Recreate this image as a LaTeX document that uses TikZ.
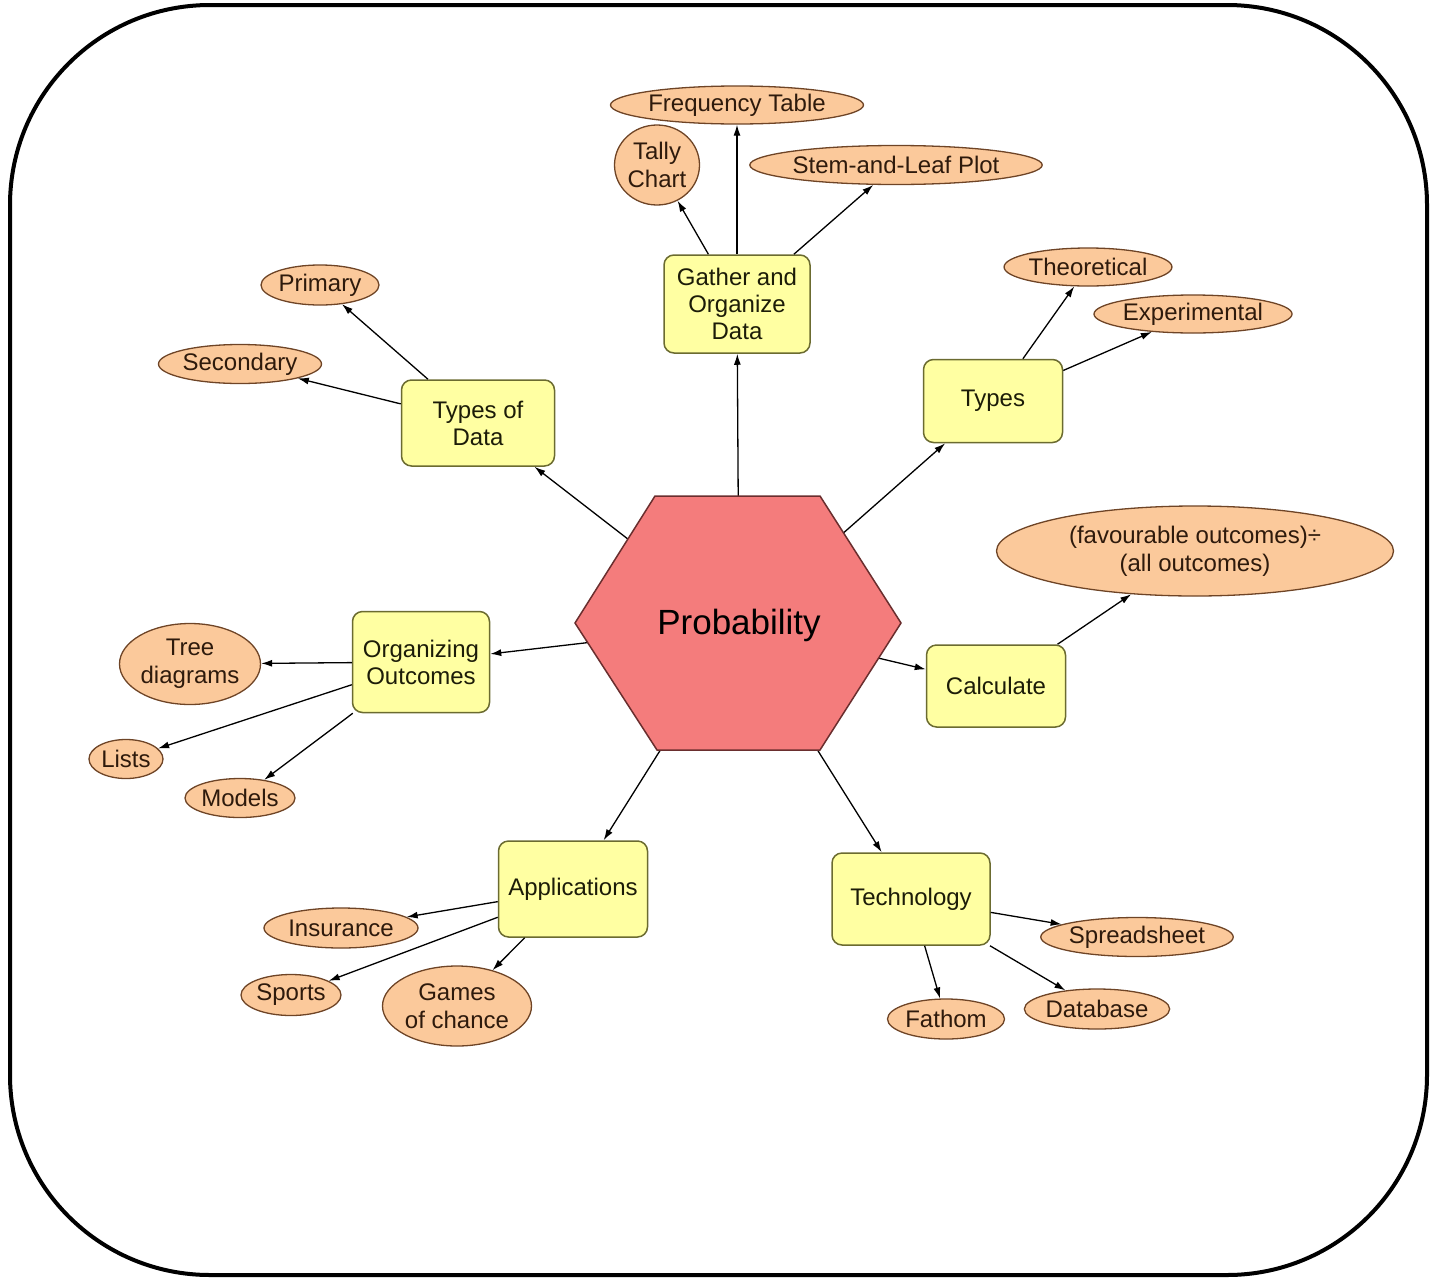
\documentclass[tikz,border=0pt]{standalone}
\usepackage{fontspec}
\setmainfont{Liberation Sans}
\usetikzlibrary{arrows.meta,shapes.geometric}
\definecolor{ellfill}{HTML}{FBC99B}
\definecolor{ellline}{HTML}{6E4426}
\definecolor{boxfill}{HTML}{FFFFA2}
\definecolor{boxline}{HTML}{6B6B30}
\definecolor{hexfill}{HTML}{F47C7C}
\definecolor{hexline}{HTML}{6A2E2E}
\definecolor{leaftext}{HTML}{2E1A0C}
\definecolor{boxtext}{HTML}{1C1C08}
\pgfdeclarelayer{bg}
\pgfsetlayers{bg,main}
\begin{document}
\begin{tikzpicture}[x=1pt,y=-1pt,
  leaf/.style={ellipse, draw=ellline, fill=ellfill, line width=1.3pt, inner sep=0pt,
    align=center, text=leaftext, font=\fontsize{24}{28}\selectfont},
  topic/.style={rectangle, rounded corners=10pt, draw=boxline, fill=boxfill, line width=1.5pt,
    inner sep=0pt, align=center, text=boxtext, font=\fontsize{24}{27}\selectfont},
  link/.style={-{Latex[length=11pt,width=7pt]}, line width=1.3pt, black},
  frame/.style={line width=4pt, rounded corners=200pt}]
\useasboundingbox (0,0) rectangle (1437,1277);
\draw[frame] (10,5) rectangle (1427,1275);

% central hexagon
\draw[fill=hexfill, draw=hexline, line width=1.5pt]
  (655,496) -- (820,496) -- (901,623) -- (820,750) -- (657,750) -- (575,623) -- cycle;
\node[font=\fontsize{35}{40}\selectfont, text=black, inner sep=0pt] (hub) at (739,625) {Probability};

% topics
\node[topic, minimum width=146pt, minimum height=98pt] (gather) at (737,304) {Gather and\\Organize\\Data};
\node[topic, minimum width=153pt, minimum height=86pt] (tdata) at (478,423) {Types of\\Data};
\node[topic, minimum width=139pt, minimum height=83pt] (types) at (993,401) {Types};
\node[topic, minimum width=137pt, minimum height=101pt] (orgout) at (421,662) {Organizing\\Outcomes};
\node[topic, minimum width=139pt, minimum height=82pt] (calc) at (996,686) {Calculate};
\node[topic, minimum width=149pt, minimum height=96pt] (apps) at (573,889) {Applications};
\node[topic, minimum width=158pt, minimum height=92pt] (tech) at (911,899) {Technology};

% leaves
\node[leaf, minimum width=253pt, minimum height=38pt] (freq) at (737,105) {Frequency Table};
\node[leaf, minimum width=85pt, minimum height=80pt] (tally) at (657,165) {Tally\\Chart};
\node[leaf, minimum width=290pt, minimum height=39pt] (stem) at (896,165) {Stem-and-Leaf Plot};
\node[leaf, minimum width=118pt, minimum height=40pt] (primary) at (320,285) {Primary};
\node[leaf, minimum width=163pt, minimum height=39pt] (secondary) at (240,364) {Secondary};
\node[leaf, minimum width=167pt, minimum height=38pt] (theo) at (1088,267) {Theoretical};
\node[leaf, minimum width=196pt, minimum height=38pt] (expe) at (1193,314) {Experimental};
\node[leaf, minimum width=397pt, minimum height=90pt] (formula) at (1195,551) {(favourable outcomes)÷\\(all outcomes)};
\node[leaf, minimum width=141pt, minimum height=81pt] (tree) at (190,664) {Tree\\diagrams};
\node[leaf, minimum width=74pt, minimum height=39pt] (lists) at (126,759) {Lists};
\node[leaf, minimum width=110pt, minimum height=39pt] (models) at (240,798) {Models};
\node[leaf, minimum width=154pt, minimum height=40pt] (insur) at (341,928) {Insurance};
\node[leaf, minimum width=100pt, minimum height=41pt] (sports) at (291,995) {Sports};
\node[leaf, minimum width=149pt, minimum height=80pt] (games) at (457,1006) {Games\\of chance};
\node[leaf, minimum width=191pt, minimum height=39pt] (spread) at (1137,937) {Spreadsheet};
\node[leaf, minimum width=117pt, minimum height=40pt] (fathom) at (946,1019) {Fathom};
\node[leaf, minimum width=145pt, minimum height=40pt] (dbase) at (1097,1009) {Database};

\begin{pgfonlayer}{bg}
  \draw[link] (hub.center) -- (gather);
  \draw[link] (hub.center) -- (tdata);
  \draw[link] (hub.center) -- (types);
  \draw[link] (hub.center) -- (orgout);
  \draw[link] (hub.center) -- (calc);
  \draw[link] (hub.center) -- (apps);
  \draw[link] (hub.center) -- (tech);
\end{pgfonlayer}

\draw[link] (gather) -- (freq);
\draw[link] (gather) -- (tally);
\draw[link] (gather) -- (stem);
\draw[link] (tdata) -- (primary);
\draw[link] (tdata) -- (secondary);
\draw[link] (types) -- (theo);
\draw[link] (types) -- (expe);
\draw[link] (calc) -- (formula);
\draw[link] (orgout) -- (tree);
\draw[link] (orgout) -- (lists);
\draw[link] (orgout) -- (models);
\draw[link] (apps) -- (insur);
\draw[link] (apps) -- (sports);
\draw[link] (apps) -- (games);
\draw[link] (tech) -- (spread);
\draw[link] (tech) -- (fathom);
\draw[link] (tech) -- (dbase);
\end{tikzpicture}
\end{document}
